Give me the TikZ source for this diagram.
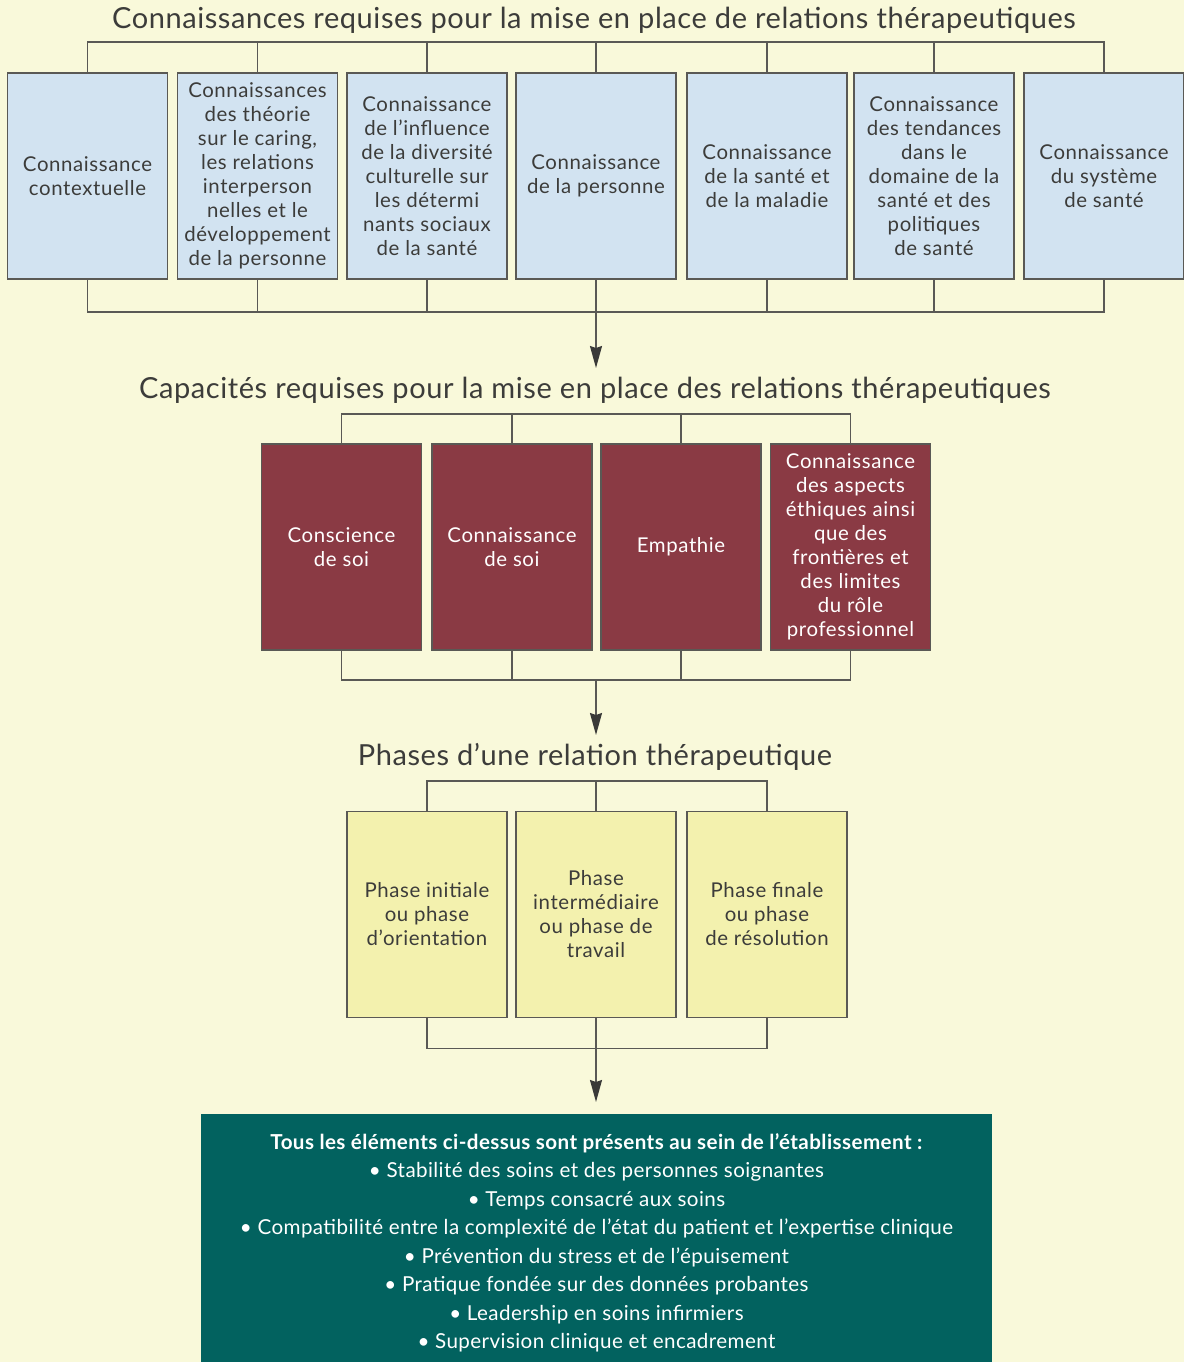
\documentclass[tikz,border=0pt]{standalone}
\usepackage{fontspec}
\setmainfont{Lato}
\usetikzlibrary{arrows.meta}

\definecolor{bgcream}{HTML}{F9F9DA}
\definecolor{linegrey}{HTML}{5A5955}
\definecolor{tipgrey}{HTML}{3A3A38}
\definecolor{textgrey}{HTML}{3C3C3A}
\definecolor{kblue}{HTML}{D2E3F1}
\definecolor{cmaroon}{HTML}{8A3A44}
\definecolor{pyellow}{HTML}{F3F1AE}
\definecolor{eteal}{HTML}{02625F}

\tikzset{
  bus/.style={draw=linegrey, line width=0.8pt},
  flow/.style={bus, -{Stealth[length=11pt,width=6pt,inset=1pt,color=tipgrey]}},
  title/.style={text=textgrey, inner sep=0pt,
    font=\fontsize{14.5}{17}\selectfont\addfontfeatures{LetterSpace=2}},
  box/.style={draw=linegrey, line width=0.8pt, minimum width=80pt, minimum height=103pt,
    align=center, inner sep=1pt,
    font=\fontsize{10.2}{12}\selectfont\addfontfeatures{LetterSpace=3}},
  kbox/.style={box, fill=kblue, text=textgrey},
  cbox/.style={box, fill=cmaroon, text=white},
  pbox/.style={box, fill=pyellow, text=textgrey},
  ebox/.style={fill=eteal, text=white, minimum width=395.5pt, minimum height=129pt,
    align=center, inner sep=0pt,
    font=\fontsize{10.3}{14.25}\selectfont\addfontfeatures{LetterSpace=2}}
}

\begin{document}
\begin{tikzpicture}[x=0.5pt, y=-0.5pt]
    % Background
    \fill[bgcream] (0,0) rectangle (1184,1362);
    \useasboundingbox (0,0) rectangle (1184,1362);

    % Titles
    \node[title] (t1) at (594,20) {Connaissances requises pour la mise en place de relations thérapeutiques};
    \node[title] (t2) at (595,390) {Capacités requises pour la mise en place des relations thérapeutiques};
    \node[title] (t3) at (595,757) {Phases d’une relation thérapeutique};

    % Knowledge boxes
    \node[kbox] (k1) at (87.5,176) {Connaissance\\contextuelle};
    \node[kbox] (k2) at (257.5,176) {Connaissances\\des théorie\\sur le caring,\\les relations\\interperson\\nelles et le\\développement\\de la personne};
    \node[kbox] (k3) at (427,176) {Connaissance\\de l’influence\\de la diversité\\culturelle sur\\les détermi\\nants sociaux\\de la santé};
    \node[kbox] (k4) at (596,176) {Connaissance\\de la personne};
    \node[kbox] (k5) at (767,176) {Connaissance\\de la santé et\\de la maladie};
    \node[kbox] (k6) at (934,176) {Connaissance\\des tendances\\dans le\\domaine de la\\santé et des\\politiques\\de santé};
    \node[kbox] (k7) at (1104,176) {Connaissance\\du système\\de santé};

    % Capacity boxes
    \node[cbox] (c1) at (341.5,547) {Conscience\\de soi};
    \node[cbox] (c2) at (512,547) {Connaissance\\de soi};
    \node[cbox] (c3) at (681,547) {Empathie};
    \node[cbox] (c4) at (850.5,547) {Connaissance\\des aspects\\éthiques ainsi\\que des\\frontières et\\des limites\\du rôle\\professionnel};

    % Phase boxes
    \node[pbox] (p1) at (427,914.5) {Phase initiale\\ou phase\\d’orientation};
    \node[pbox] (p2) at (596,914.5) {Phase\\intermédiaire\\ou phase de\\travail};
    \node[pbox] (p3) at (767,914.5) {Phase finale\\ou phase\\de résolution};

    % Setting box
    \node[ebox] (e1) at (596.5,1243) {\textbf{Tous les éléments ci-dessus sont présents au sein de l’établissement :}\\
      • Stabilité des soins et des personnes soignantes\\
      • Temps consacré aux soins\\
      • Compatibilité entre la complexité de l’état du patient et l’expertise clinique\\
      • Prévention du stress et de l’épuisement\\
      • Pratique fondée sur des données probantes\\
      • Leadership en soins infirmiers\\
      • Supervision clinique et encadrement};

    % Buses above and below the knowledge boxes
    \draw[bus] (k1.north) -- ++(0,-30) -| (k7.north);
    \foreach \n in {k2,k3,k4,k5,k6}
        \draw[bus] (\n.north) -- ++(0,-30);
    \draw[bus] (k1.south) -- ++(0,32) -| (k7.south);
    \foreach \n in {k2,k3,k4,k5,k6}
        \draw[bus] (\n.south) -- ++(0,32);

    % Buses above and below the capacity boxes
    \draw[bus] (c1.north) -- ++(0,-29) -| (c4.north);
    \foreach \n in {c2,c3}
        \draw[bus] (\n.north) -- ++(0,-29);
    \draw[bus] (c1.south) -- ++(0,29) -| (c4.south);
    \foreach \n in {c2,c3}
        \draw[bus] (\n.south) -- ++(0,29);

    % Buses above and below the phase boxes
    \draw[bus] (p1.north) -- ++(0,-30) -| (p3.north);
    \draw[bus] (p2.north) -- ++(0,-30);
    \draw[bus] (p1.south) -- ++(0,30) -| (p3.south);
    \draw[bus] (p2.south) -- ++(0,30);

    % Arrows between the rows
    \coordinate (a1) at (596,311);
    \coordinate (a2) at (596,679);
    \coordinate (a3) at (596,1047);
    \coordinate (b1) at (596,368);
    \coordinate (b2) at (596,735);
    \coordinate (b3) at (596,1102);
    \draw[flow] (a1) -- (b1);
    \draw[flow] (a2) -- (b2);
    \draw[flow] (a3) -- (b3);

\end{tikzpicture}
\end{document}
